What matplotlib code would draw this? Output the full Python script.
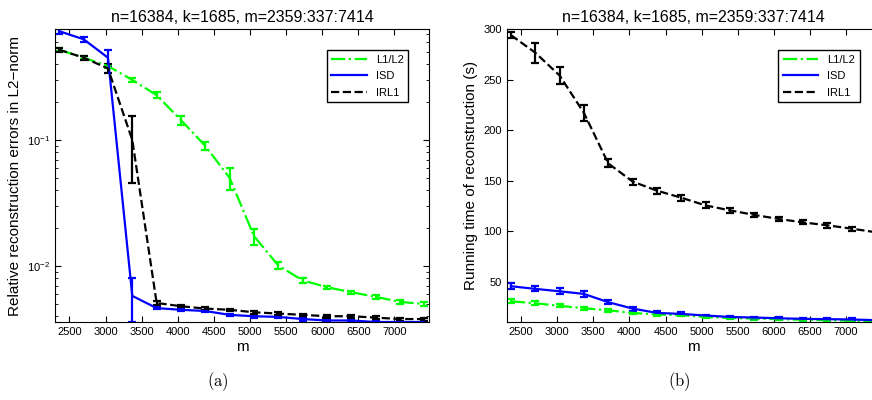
import matplotlib
matplotlib.use('Agg')
from matplotlib import pyplot as plt
from matplotlib.lines import Line2D

plt.rcParams['font.family'] = ['Liberation Sans', 'DejaVu Sans']
plt.rcParams['mathtext.fontset'] = 'cm'

# m = 2359:337:7414
m = [2359, 2696, 3033, 3370, 3707, 4044, 4381, 4718,
     5055, 5392, 5729, 6066, 6403, 6740, 7077, 7414]

# (a) relative errors
err_l1l2 = [0.52, 0.45, 0.386, 0.30, 0.227, 0.144, 0.0897, 0.050,
            0.0173, 0.0101, 0.0077, 0.0068, 0.0062, 0.0057, 0.0052, 0.0050]
err_l1l2_sd = [0.015, 0.01, 0.01, 0.01, 0.012, 0.012, 0.007, 0.01,
               0.0025, 0.0006, 0.0004, 0.0002, 0.0002, 0.0002, 0.0002, 0.0002]
err_isd = [0.73, 0.63, 0.45, 0.0058, 0.00464, 0.0045, 0.0044, 0.0041,
           0.0040, 0.00395, 0.0038, 0.0037, 0.0037, 0.0036, 0.0036, 0.0036]
err_isd_sd = [0.03, 0.03, 0.07, 0.0022, 0.0001, 0.0001, 0.0001, 0.0001,
              0.0001, 0.0001, 0.0001, 0.0001, 0.0001, 0.0001, 0.0001, 0.0001]
err_irl1 = [0.52, 0.45, 0.37, 0.10, 0.0051, 0.0048, 0.0046, 0.0045,
            0.0043, 0.0042, 0.0041, 0.0040, 0.0040, 0.0039, 0.0038, 0.0038]
err_irl1_sd = [0.02, 0.015, 0.03, 0.054, 0.0002, 0.0001, 0.0001, 0.0001,
               0.0001, 0.0001, 0.0001, 0.0001, 0.0001, 0.0001, 0.0001, 0.0001]

# (b) running time (s)
t_l1l2 = [30.5, 28.6, 26.0, 23.6, 21.6, 19.0, 17.4, 16.7,
          15.0, 14.0, 13.4, 12.8, 12.2, 11.8, 11.2, 10.5]
t_l1l2_sd = [2, 2, 1.5, 1.5, 1.5, 1.5, 1, 1, 1, 1, 1, 1, 1, 1, 1, 1]
t_isd = [45.4, 42.8, 40.4, 37.8, 29.6, 23.3, 19.0, 18.0,
         16.4, 15.0, 14.4, 13.7, 13.1, 12.8, 12.5, 11.8]
t_isd_sd = [3, 2.5, 3, 3, 2, 2, 1.5, 1.5, 1, 1, 1, 1, 1, 1, 1, 1]
t_irl1 = [294, 276.6, 254, 217, 167, 149, 140, 133,
          125.4, 120.5, 116, 112, 108.6, 105.7, 102.4, 98.8]
t_irl1_sd = [3, 10, 8, 8, 4, 3, 3, 3, 3, 2.5, 2, 2, 2, 2.5, 2, 1]

labels = ['L1/L2', 'ISD', 'IRL1']
colors = ['#00ff00', '#0000ff', 'black']
styles = ['-.', '-', '--']
title = 'n=16384, k=1685, m=2359:337:7414'

fig = plt.figure(figsize=(8.72, 4.0), dpi=100)
ax1 = fig.add_axes([0.0631, 0.195, 0.429, 0.7325])
ax2 = fig.add_axes([0.581, 0.195, 0.429, 0.7325])

panels = [
    (ax1, [(err_l1l2, err_l1l2_sd), (err_isd, err_isd_sd), (err_irl1, err_irl1_sd)]),
    (ax2, [(t_l1l2, t_l1l2_sd), (t_isd, t_isd_sd), (t_irl1, t_irl1_sd)]),
]

for ax, series in panels:
    handles = []
    for (y, e), lab, c, ls in zip(series, labels, colors, styles):
        ax.errorbar(m, y, yerr=e, color=c, linestyle=ls, linewidth=1.6,
                    elinewidth=1.6, capsize=3, capthick=1.6)
        handles.append(Line2D([], [], color=c, linestyle=ls, linewidth=1.6, label=lab))
    ax.set_xlim(2300, 7480)
    ax.set_xticks(range(2500, 7001, 500))
    ax.tick_params(direction='in', which='both', top=True, right=True,
                   labelsize=8, length=4)
    ax.tick_params(which='minor', length=2)
    ax.set_title(title, fontsize=11.5, pad=5)
    ax.set_xlabel('m', fontsize=11, labelpad=2)
    leg = ax.legend(handles=handles, loc='upper right', fontsize=8,
                    handlelength=3.2, fancybox=False, edgecolor='black',
                    framealpha=1, borderaxespad=1.9, labelspacing=0.6)
    leg.get_frame().set_linewidth(1.0)

ax1.set_yscale('log')
ax1.set_ylim(0.0036, 0.76)
ax1.set_ylabel('Relative reconstruction errors in L2\u2212norm', fontsize=11)
ax2.set_ylim(10, 300)
ax2.set_ylabel('Running time of reconstruction (s)', fontsize=11)

fig.text(0.25, 0.045, r'$\mathrm{(a)}$', fontsize=12, ha='center', va='center')
fig.text(0.779, 0.045, r'$\mathrm{(b)}$', fontsize=12, ha='center', va='center')

fig.savefig('out.png', dpi=100)
